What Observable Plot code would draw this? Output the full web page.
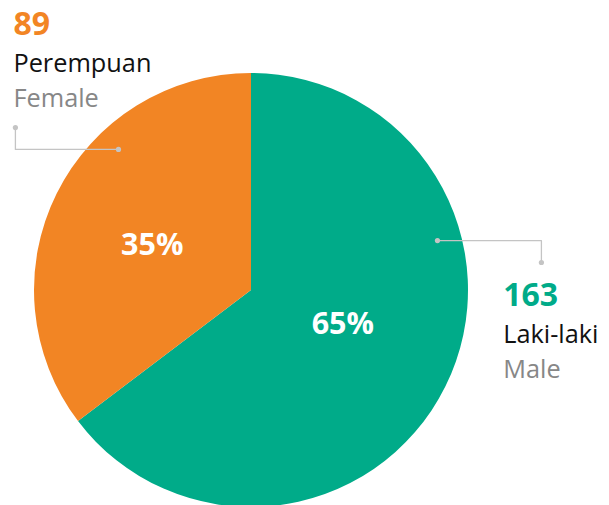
<!DOCTYPE html>
<html>
<head>
<meta charset="utf-8">
<script src="https://cdn.jsdelivr.net/npm/d3@7"></script>
<script src="https://cdn.jsdelivr.net/npm/@observablehq/plot@0.6"></script>
<style>
  html, body { margin: 0; padding: 0; background: #fff; }
  #chart { width: 609px; height: 505px; overflow: hidden; }
</style>
</head>
<body>
<div id="chart"></div>
<script>
// Data
const categories = ["Laki-laki", "Perempuan"];
const englishLabels = ["Male", "Female"];
const counts = [163, 89];
const colors = ["#00AB89", "#F28524"];

const total = d3.sum(counts);
const rows = categories.map((c, i) => ({
  category: c, english: englishLabels[i], count: counts[i], color: colors[i],
  pct: Math.round(counts[i] / total * 100) + "%"
}));
const arcs = d3.pie().sort(null).value(d => d.count)(rows);
const k = 0.47;
const pctNudge = [{dx: 0, dy: -12}, {dx: -8, dy: 0}];
const pctRows = arcs.map((a, i) => {
  const m = (a.startAngle + a.endAngle) / 2;
  return {x: Math.sin(m) * k, y: Math.cos(m) * k, label: a.data.pct, ...pctNudge[i]};
});

// annotation anchors (data units, pie radius = 1)
const labelAnchors = [
  {x: 1.16, y: -0.07},  // Laki-laki block
  {x: -1.097, y: 1.177} // Perempuan block
];
const labelRows = rows.map((r, i) => ({...r, ...labelAnchors[i]}));

const leaders = [
  [{x: 0.857, y: 0.230}, {x: 1.336, y: 0.230}, {x: 1.336, y: 0.129}],
  [{x: -0.613, y: 0.650}, {x: -1.088, y: 0.650}, {x: -1.088, y: 0.751}]
];
const leaderPts = leaders.flatMap((pts, i) => pts.map(p => ({...p, g: i})));
const leaderDots = leaders.flatMap(pts => [pts[0], pts[pts.length - 1]]);

function pieMark(index, scales, values, dimensions, context) {
  const cx = scales.x(0), cy = scales.y(0), r = scales.x(1) - scales.x(0);
  const g = d3.create("svg:g").attr("transform", `translate(${cx},${cy})`);
  g.selectAll("path").data(arcs).join("path")
    .attr("d", d3.arc().innerRadius(0).outerRadius(r))
    .attr("fill", d => d.data.color);
  return g.node();
}

const chart = Plot.plot({
  width: 609,
  height: 505,
  margin: 0,
  style: {fontFamily: "'Open Sans', sans-serif", background: "#fff"},
  x: {domain: [-1, 1], range: [34, 468], axis: null},
  y: {domain: [-1, 1], range: [507, 73], axis: null},
  marks: [
    pieMark,
    Plot.line(leaderPts, {x: "x", y: "y", z: "g", stroke: "#c4c4c4", strokeWidth: 1.3}),
    Plot.dot(leaderDots, {x: "x", y: "y", r: 2.6, fill: "#c4c4c4"}),
    ...pctRows.map(p => Plot.text([p], {x: "x", y: "y", dx: p.dx, dy: p.dy, text: "label", fill: "#fff", fontSize: 30.5, fontWeight: "bold", lineAnchor: "middle"})),
    Plot.text(labelRows, {x: "x", y: "y", text: d => String(d.count), fill: "color", fontSize: 32, fontWeight: "bold", textAnchor: "start", lineAnchor: "bottom"}),
    Plot.text(labelRows, {x: "x", y: "y", dy: 37, text: "category", fill: "#111", fontSize: 25.3, textAnchor: "start", lineAnchor: "bottom"}),
    Plot.text(labelRows, {x: "x", y: "y", dy: 72, text: "english", fill: "#878787", fontSize: 25.3, textAnchor: "start", lineAnchor: "bottom"})
  ]
});
document.getElementById("chart").appendChild(chart);
</script>
</body>
</html>
